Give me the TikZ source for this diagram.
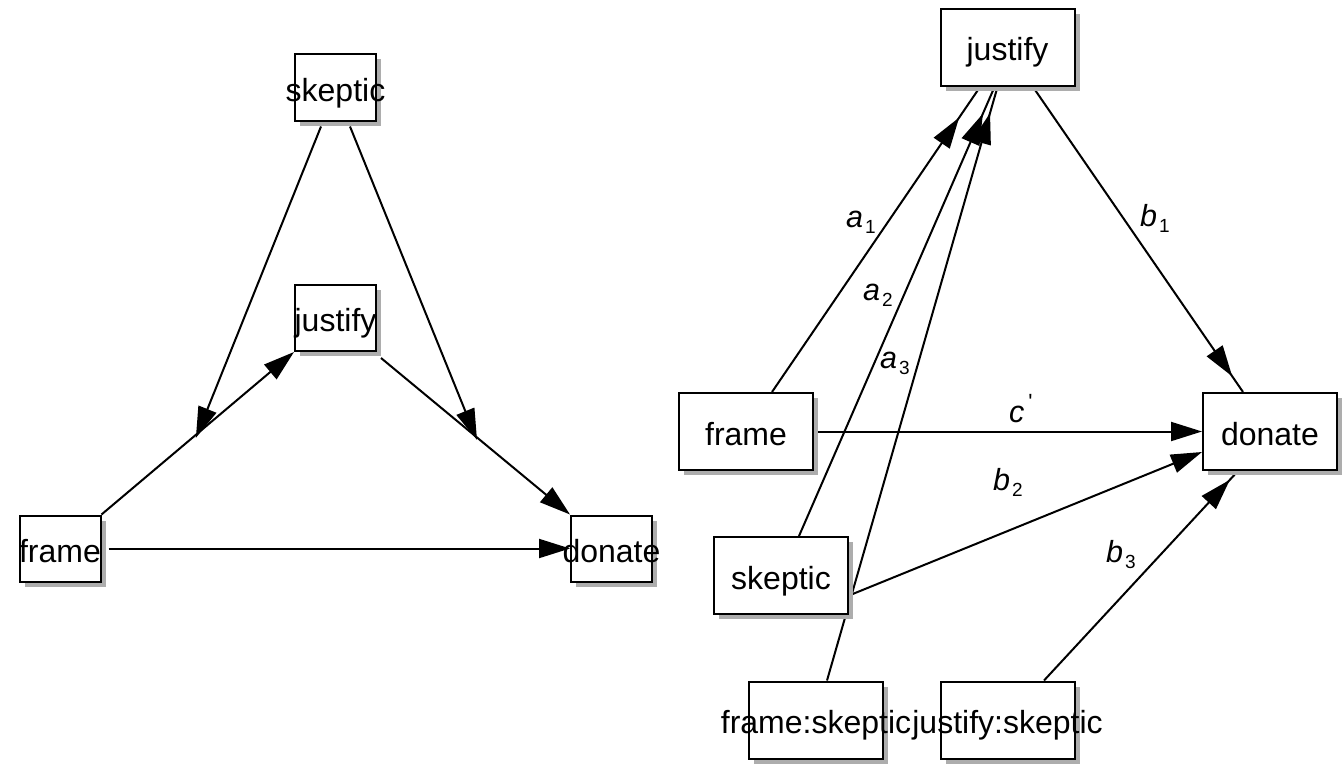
\documentclass[tikz,border=0pt]{standalone}
\usepackage{fontspec}
\setmainfont{Liberation Sans}
\usetikzlibrary{arrows.meta,shadows,backgrounds,decorations.markings}

\tikzset{
  box/.style={draw, line width=2pt, fill=white, inner sep=0pt,
    font=\fontsize{32}{36}\selectfont, text height=27pt, text depth=0pt,
    drop shadow={shadow xshift=5pt, shadow yshift=-5pt, fill=black!32, opacity=1}},
  boxL/.style={box, minimum width=81pt, minimum height=66pt},
  boxR/.style={box, minimum width=134pt, minimum height=77pt},
  conn/.style={line width=2pt},
  arr/.style={conn, -{Triangle[length=31pt,width=19pt]}},
  tipat/.style={conn, postaction={decorate, decoration={markings,
    mark=at position #1 with {\arrow{Triangle[length=31pt,width=19pt]}}}}},
  lbl/.style={anchor=base west, inner sep=0pt, font=\fontsize{30.5}{34}\selectfont}
}
\newcommand{\coef}[2]{\textit{#1}\hspace{2pt}\raisebox{-6pt}{\fontsize{19}{20}\selectfont #2}}

\begin{document}
\begin{tikzpicture}[x=1pt,y=-1pt]
        \useasboundingbox (0,0) rectangle (1344,768);

        % left: the triangle
        \node[boxL] (skL) at (335.5,87.5)  {\makebox[0pt]{skeptic}};
        \node[boxL] (jsL) at (335.5,318)   {\makebox[0pt]{justify}};
        \node[boxL] (frL) at (60,548.5)    {\makebox[0pt]{frame}};
        \node[boxL] (dnL) at (611.5,548.5) {\makebox[0pt]{donate}};

        % right: the regression paths
        \node[boxR] (jsR) at (1007.5,47.5) {justify};
        \node[boxR] (frR) at (746,431.5)   {frame};
        \node[boxR] (dnR) at (1270,431.5)  {donate};
        \node[boxR] (skR) at (781,575.5)   {skeptic};
        \node[boxR] (fsR) at (816,720)     {\makebox[0pt]{frame:skeptic}};
        \node[boxR] (jkR) at (1007.5,720)  {\makebox[0pt]{justify:skeptic}};

        \begin{scope}[on background layer]
                % left connectors
                \draw[arr] (frL.north east) -- coordinate[pos=0.5] (mFJ) (jsL.south west);
                \draw[arr] ([xshift=4pt,yshift=-6pt]jsL.south east) -- coordinate[pos=0.5] (mJD) (dnL.north west);
                \draw[arr] ([xshift=7pt]frL.east) -- (dnL.west);
                \draw[arr, shorten >=-5pt] ([xshift=-14.5pt,yshift=-5pt]skL.south) -- (mFJ);
                \draw[arr, shorten >=-4pt] ([xshift=14.5pt,yshift=-5pt]skL.south) -- (mJD);

                % right connectors, heads set back from the boxes
                \draw[tipat=-37pt] ([xshift=26pt]frR.north) -- ([xshift=-27.5pt]jsR.south);
                \draw[tipat=-29pt] ([xshift=18pt]skR.north) -- ([xshift=-13pt]jsR.south);
                \draw[tipat=-27pt] ([xshift=11pt]fsR.north) -- ([xshift=-10pt]jsR.south);
                \draw[tipat=-19pt] ([xshift=25.5pt]jsR.south) -- ([xshift=-27pt]dnR.north);
                \draw[arr] (frR.east) -- (dnR.west);
                \draw[arr] ([yshift=-20pt]skR.east) -- ([yshift=-20.5pt]dnR.west);
                \draw[tipat=-12pt] ([xshift=36.5pt]jkR.north) -- ([xshift=-32pt]dnR.south);
        \end{scope}

        % path labels
        \node[lbl] (la1) at (846,227)  {\coef{a}{1}};
        \node[lbl] (la2) at (863,300)  {\coef{a}{2}};
        \node[lbl] (la3) at (880,368)  {\coef{a}{3}};
        \node[lbl] (lb1) at (1140,226) {\coef{b}{1}};
        \node[lbl] (lb2) at (993,490)  {\coef{b}{2}};
        \node[lbl] (lb3) at (1106,562) {\coef{b}{3}};
        \node[lbl] (lc)  at (1009,422) {\textit{c}\hspace{4pt}\raisebox{13pt}{\fontsize{22}{22}\selectfont\textquotesingle}};
\end{tikzpicture}
\end{document}
